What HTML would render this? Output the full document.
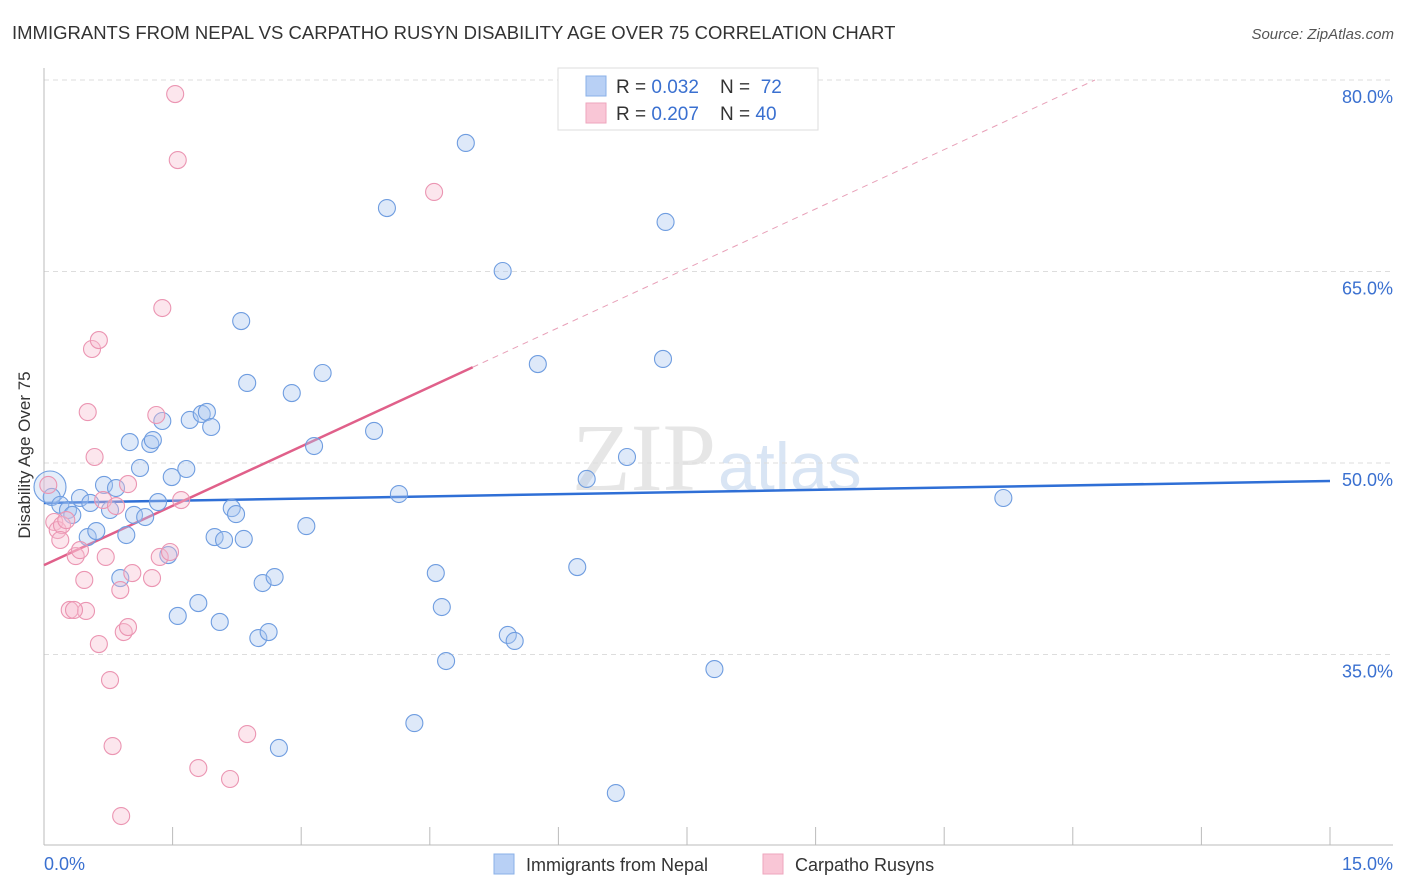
<!DOCTYPE html>
<html><head><meta charset="utf-8"><style>
body{margin:0;background:#fff;font-family:"Liberation Sans",sans-serif}
svg{display:block}
.pre{white-space:pre}
</style></head><body>
<svg id="c" width="1406" height="892" viewBox="0 0 1406 892">
<text x="12" y="39" font-size="18.5" fill="#333">IMMIGRANTS FROM NEPAL VS CARPATHO RUSYN DISABILITY AGE OVER 75 CORRELATION CHART</text>
<text x="1394" y="39" font-size="15" fill="#555" font-style="italic" text-anchor="end">Source: ZipAtlas.com</text>
<text x="716" y="490" font-size="96" fill="#e6e6e6" font-family="Liberation Serif,serif" text-anchor="end">ZIP</text>
<text x="718" y="490" font-size="68" fill="#d9e5f4">atlas</text>
<g id="grid"></g>
<g id="axes"></g>
<g id="lines"></g>
<g id="pts"></g>
<text x="30" y="455" font-size="17" fill="#333" text-anchor="middle" transform="rotate(-90 30 455)">Disability Age Over 75</text>
<g>
<rect x="558" y="68" width="260" height="62" fill="#fff" stroke="#ddd"/>
<rect x="586" y="76" width="20" height="20" fill="#b8d0f5" stroke="#8ab0e8"/>
<rect x="586" y="103" width="20" height="20" fill="#f9c6d6" stroke="#eea6bd"/>
<text class="pre" x="616" y="93" font-size="19" fill="#333">R = <tspan fill="#3a70d0">0.032</tspan>    N = <tspan fill="#3a70d0"> 72</tspan></text>
<text class="pre" x="616" y="120" font-size="19" fill="#333">R = <tspan fill="#3a70d0">0.207</tspan>    N = <tspan fill="#3a70d0">40</tspan></text>
</g>
<g>
<rect x="494" y="854" width="20" height="20" fill="#b8d0f5" stroke="#8ab0e8"/>
<text x="526" y="871" font-size="18" fill="#333">Immigrants from Nepal</text>
<rect x="763" y="854" width="20" height="20" fill="#f9c6d6" stroke="#eea6bd"/>
<text x="795" y="871" font-size="18" fill="#333">Carpatho Rusyns</text>
</g>
</svg>
<script>
const yTicks=[35,50,65,80];
const yTickLabels=["35.0%","50.0%","65.0%","80.0%"];
const xTickLabels=["0.0%","15.0%"];
const nepalX=[.07,.09,.19,.28,.33,.42,.51,.54,.61,.70,.77,.84,.89,.96,1.00,1.05,1.12,1.18,1.24,1.27,1.33,1.38,1.45,1.49,1.56,1.66,1.70,1.80,1.84,1.90,1.95,1.99,2.05,2.10,2.19,2.24,2.30,2.33,2.37,2.50,2.55,2.62,2.69,2.74,2.89,3.06,3.15,3.25,3.85,4.00,4.14,4.32,4.57,4.64,4.69,4.92,5.35,5.41,5.49,5.76,6.22,6.33,6.67,6.80,7.22,7.25,7.82,11.19];
const nepalY=[48.12,47.34,46.72,46.32,45.93,47.26,44.2,46.87,44.67,48.28,46.32,48.04,40.99,44.36,51.64,45.93,49.61,45.77,51.49,51.8,46.94,53.29,42.79,48.9,38.02,49.53,53.37,39.03,53.84,54.0,52.82,44.2,37.55,43.97,46.47,46.0,61.12,44.05,56.27,36.29,40.6,36.76,41.07,27.68,55.48,45.06,51.33,57.05,52.51,69.97,47.57,29.63,41.38,38.72,34.49,75.07,65.04,36.53,36.06,57.75,41.85,48.75,24.15,50.47,58.15,68.88,33.86,47.26];
const rusynX=[.05,.12,.16,.21,.26,.30,.37,.42,.47,.49,.51,.56,.59,.64,.64,.69,.72,.77,.80,.84,.89,.90,.93,.98,.98,1.03,1.26,1.31,1.35,1.38,1.47,1.53,1.56,1.60,1.80,2.17,2.37,4.55,.35,.19];
const rusynY=[48.28,45.38,44.75,45.14,45.53,38.49,42.71,43.18,40.84,38.41,53.99,58.93,50.47,59.63,35.82,47.1,42.64,33.0,27.83,46.63,40.05,22.35,36.76,37.15,48.35,41.38,40.99,53.76,42.64,62.14,43.03,78.9,73.73,47.1,26.11,25.25,28.77,71.23,38.49,43.97];
const nepalTrend=[46.87,48.59];
const rusynTrend=[42.0,3.1];
const NS="http://www.w3.org/2000/svg";
const X=v=>44+v*85.733, Y=v=>80+(80-v)*12.767;
function mk(p,t,a){const e=document.createElementNS(NS,t);for(const k in a)e.setAttribute(k,a[k]);document.getElementById(p).appendChild(e);return e;}
yTicks.forEach((t,i)=>{
 const g=mk('grid','line',{x1:44,x2:1393,y1:Y(t),y2:Y(t),stroke:'#ddd','stroke-dasharray':'5,4'});
 
 
 const l=mk('grid','text',{x:1393,y:Y(t)+23,'font-size':18,fill:'#3a70d0','text-anchor':'end'});
 l.textContent=yTickLabels[i];
 
 
});
const ax=mk('axes','line',{x1:44,x2:1393,y1:845,y2:845,stroke:'#bbb'});


const ay=mk('axes','line',{x1:44,x2:44,y1:68,y2:845,stroke:'#bbb'});


for(let i=0;i<=10;i++){const t=mk('axes','line',{x1:X(i*1.5),x2:X(i*1.5),y1:827,y2:845,stroke:'#bbb'});
 
 }
[[0,'start',44],[1,'end',1393]].forEach(([i,a,x])=>{const l=mk('axes','text',{x:x,y:870,'font-size':18,fill:'#3a70d0','text-anchor':a});l.textContent=xTickLabels[i];
 
 });
function pts(xs,ys,fill,stroke,name){xs.forEach((x,i)=>{const big=(name==='nepal-point'&&i===0);const r=big?16:8.5;
 const c=mk('pts','circle',{cx:X(x),cy:Y(ys[i]),r:r,fill:fill,'fill-opacity':big?0.3:0.38,stroke:stroke,'stroke-width':1.1});
 
 });}
const bl=mk('lines','line',{x1:X(0),y1:Y(nepalTrend[0]),x2:X(15),y2:Y(nepalTrend[1]),stroke:'#2f6fd6','stroke-width':2.5});


const xe=(80-rusynTrend[0])/rusynTrend[1];
const pd=mk('lines','line',{x1:X(5.0),y1:Y(rusynTrend[0]+rusynTrend[1]*5.0),x2:X(xe),y2:Y(80),stroke:'#e8a0b8','stroke-width':1,'stroke-dasharray':'6,5'});


const pl=mk('lines','line',{x1:X(0),y1:Y(rusynTrend[0]),x2:X(5.0),y2:Y(rusynTrend[0]+rusynTrend[1]*5.0),stroke:'#e0608a','stroke-width':2.5});


pts(nepalX,nepalY,'#a9c6f0','#6f9de0','nepal-point');
pts(rusynX,rusynY,'#f7bed0','#eb95b2','rusyn-point');
</script>
</body></html>
